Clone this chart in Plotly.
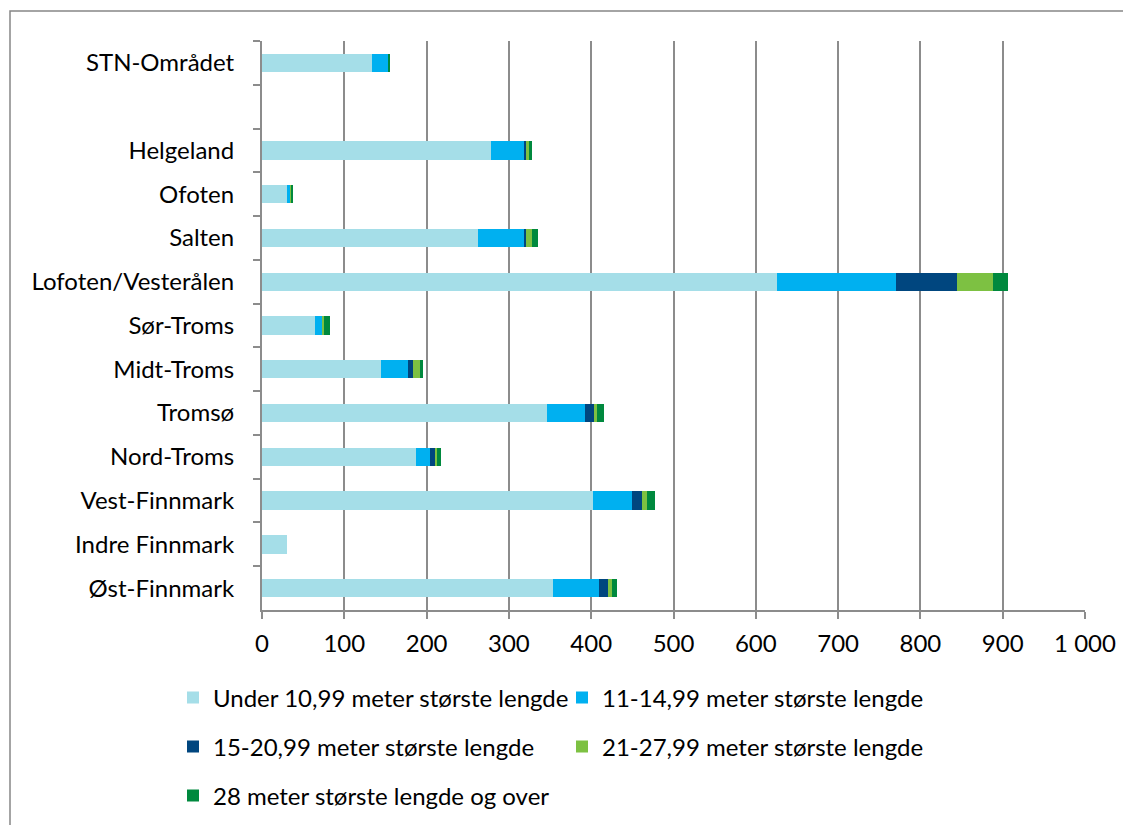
import plotly.graph_objects as go

categories = ["STN-Området", " ", "Helgeland", "Ofoten", "Salten", "Lofoten/Vesterålen",
              "Sør-Troms", "Midt-Troms", "Tromsø", "Nord-Troms", "Vest-Finnmark",
              "Indre Finnmark", "Øst-Finnmark"]

series_names = ["Under 10,99 meter største lengde", "11-14,99 meter største lengde",
                "15-20,99 meter største lengde", "21-27,99 meter største lengde",
                "28 meter største lengde og over"]

under_11 = [134, None, 278, 30, 262, 626, 64, 145, 346, 187, 402, 30, 353]
m11_15 = [19, None, 40, 5, 56, 144, 10, 33, 46, 17, 47, 0, 56]
m15_21 = [0, None, 3, 0, 3, 75, 0, 5, 11, 6, 13, 0, 12]
m21_28 = [0, None, 3, 1, 7, 43, 1, 9, 4, 3, 6, 0, 4]
m28_over = [3, None, 4, 2, 7, 18, 8, 4, 9, 4, 10, 0, 6]

tick_vals = [0, 100, 200, 300, 400, 500, 600, 700, 800, 900, 1000]
tick_text = ["0", "100", "200", "300", "400", "500", "600", "700", "800", "900", "1 000"]

colors = ["#A5DEE8", "#00B0F0", "#00467F", "#7DC142", "#00893E"]
values = [under_11, m11_15, m15_21, m21_28, m28_over]
legends = ["legend", "legend2", "legend3", "legend4", "legend5"]

FONT = "Lato, 'Open Sans', sans-serif"

fig = go.Figure()
for name, vals, col, lg in zip(series_names, values, colors, legends):
    fig.add_trace(go.Bar(
        y=categories, x=vals, name=name, orientation="h",
        marker=dict(color=col, line=dict(width=0)),
        legend=lg,
    ))

# page body has an 8px margin, so the figure is offset by (8, 8) on screen
OFF = 8
W, H = 1131 - OFF, 825 - OFF
ml, mr, mt, mb = 262 - OFF, 46, 41 - OFF, 215
pw, ph = W - ml - mr, H - mt - mb

def px_x(p):
    return (p - OFF - ml) / pw

def px_y(p):
    return (H - mb - (p - OFF)) / ph

leg_pos = [(173, 698), (562, 698), (173, 747), (562, 747), (173, 796)]
leg_layout = {}
for lg, (lx, ly) in zip(legends, leg_pos):
    leg_layout[lg] = dict(
        x=px_x(lx), y=px_y(ly), xanchor="left", yanchor="middle",
        font=dict(family=FONT, size=24, color="#000000"),
        bgcolor="rgba(0,0,0,0)", borderwidth=0,
    )

fig.update_layout(
    width=W, height=H,
    margin=dict(l=ml, r=mr, t=mt, b=mb, autoexpand=False),
    barmode="stack", bargap=0.58,
    plot_bgcolor="white", paper_bgcolor="white",
    font=dict(family=FONT, size=24, color="#000000"),
    showlegend=True,
    xaxis=dict(
        range=[0, 1000], tickmode="array", tickvals=tick_vals, ticktext=tick_text,
        showgrid=True, gridcolor="#8C8C8C", gridwidth=2,
        showline=True, linecolor="#8C8C8C", linewidth=2,
        ticks="outside", ticklen=7, tickcolor="#8C8C8C", tickwidth=2,
        tickfont=dict(family=FONT, size=24, color="#000000"),
        ticklabelstandoff=4,
        zeroline=False, fixedrange=True,
    ),
    yaxis=dict(
        type="category", categoryorder="array", categoryarray=categories,
        autorange="reversed",
        showgrid=False, showline=True, linecolor="#8C8C8C", linewidth=2,
        ticks="outside", tickson="boundaries", ticklen=7, tickcolor="#8C8C8C", tickwidth=2,
        tickfont=dict(family=FONT, size=24, color="#000000"),
        ticklabelstandoff=21,
    ),
    shapes=[dict(
        type="rect", xref="paper", yref="paper",
        x0=px_x(10), x1=px_x(1145), y0=px_y(840), y1=px_y(11),
        line=dict(color="#868686", width=1.5), fillcolor="rgba(0,0,0,0)", layer="below",
    )],
    **leg_layout,
)

fig.write_html("out.html")
